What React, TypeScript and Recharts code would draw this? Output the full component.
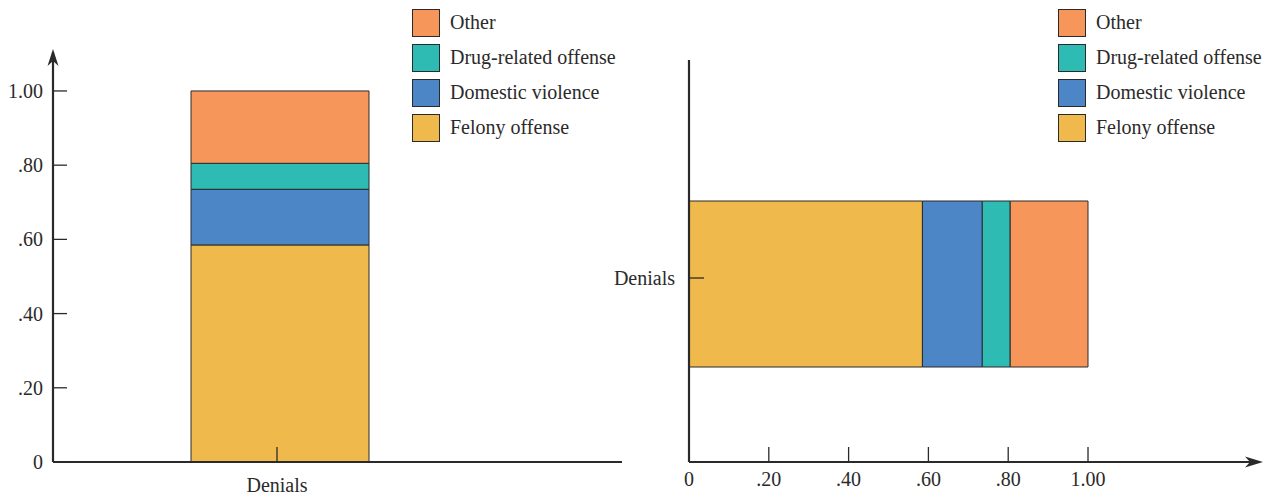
import { Bar, BarChart, Legend, XAxis, YAxis } from "recharts";

// Share of denials by reason (one category, stacked to 1.00)
const categories = ["Denials"];
const felony = [0.585];
const domestic = [0.15];
const drug = [0.07];
const other = [0.195];

const valueTicks = [0, 0.2, 0.4, 0.6, 0.8, 1];

const INK = "#2b2a2a";
const FONT = "'Liberation Serif', 'Times New Roman', serif";
const FS = 20;

const series = [
  { key: "felony", name: "Felony offense", color: "#f0b94b" },
  { key: "domestic", name: "Domestic violence", color: "#4d86c6" },
  { key: "drug", name: "Drug-related offense", color: "#2dbbb3" },
  { key: "other", name: "Other", color: "#f7965a" },
];

const data = categories.map((name, i) => ({
  name,
  felony: felony[i],
  domestic: domestic[i],
  drug: drug[i],
  other: other[i],
}));

const fmt = (v: number) => (v === 0 ? "0" : v === 1 ? "1.00" : v.toFixed(2).slice(1));

const order = (name: string) => series.findIndex((s) => s.name === name);

function LegendBox(props: any) {
  // top of the stack first
  const items = [...(props.payload || [])].sort((a: any, b: any) => order(b.value) - order(a.value));
  return (
    <div style={{ fontFamily: FONT, fontSize: FS, color: INK }}>
      {items.map((p: any) => (
        <div key={p.value} style={{ display: "flex", alignItems: "center", height: 35 }}>
          <div
            style={{
              width: 26,
              height: 26,
              background: p.color,
              border: `1px solid ${INK}`,
              marginRight: 10,
              flex: "none",
            }}
          />
          <span style={{ whiteSpace: "nowrap" }}>{p.value}</span>
        </div>
      ))}
    </div>
  );
}

const textProps = { fontFamily: FONT, fontSize: FS, fill: INK };

function LeftYTick(props: any) {
  const { x, y, payload } = props;
  return (
    <g>
      <line x1={x} x2={x + 14} y1={y} y2={y} stroke={INK} strokeWidth={1.3} />
      <text x={x - 10} y={y} textAnchor="end" dominantBaseline="central" {...textProps}>
        {fmt(payload.value)}
      </text>
    </g>
  );
}

function LeftXTick(props: any) {
  const { x, y, payload } = props;
  return (
    <g>
      <line x1={x - 3} x2={x - 3} y1={y} y2={y - 15} stroke={INK} strokeWidth={1.3} />
      <text x={x - 3} y={y + 23} textAnchor="middle" dominantBaseline="central" {...textProps}>
        {payload.value}
      </text>
    </g>
  );
}

function RightYTick(props: any) {
  const { x, y, payload } = props;
  return (
    <g>
      <line x1={x} x2={x + 15} y1={y - 6} y2={y - 6} stroke={INK} strokeWidth={1.3} />
      <text x={x - 14} y={y - 6} textAnchor="end" dominantBaseline="central" {...textProps}>
        {payload.value}
      </text>
    </g>
  );
}

function RightXTick(props: any) {
  const { x, y, payload } = props;
  return (
    <g>
      <line x1={x} x2={x} y1={y} y2={y - 15} stroke={INK} strokeWidth={1.3} />
      <text x={x} y={y + 17} textAnchor="middle" dominantBaseline="central" {...textProps}>
        {fmt(payload.value)}
      </text>
    </g>
  );
}

const axisLine = { stroke: INK, strokeWidth: 2.2 };

export default function App() {
  return (
    <div style={{ position: "relative", width: 1275, height: 495, background: "#fff" }}>
      <style>{"body{margin:0}"}</style>

      <div style={{ position: "absolute", left: 0, top: 0 }}>
        <BarChart width={640} height={495} data={data} margin={{ top: 52, right: 18, bottom: 0, left: 0 }}>
          {series.map((s) => (
            <Bar
              key={s.key}
              dataKey={s.key}
              name={s.name}
              stackId="a"
              fill={s.color}
              stroke={INK}
              strokeWidth={1}
              barSize={178}
              isAnimationActive={false}
            />
          ))}
          <XAxis
            dataKey="name"
            height={33}
            padding={{ left: 0, right: 115 }}
            axisLine={axisLine}
            tickLine={false}
            tickSize={0}
            tickMargin={0}
            tick={<LeftXTick />}
          />
          <YAxis
            type="number"
            width={53}
            domain={[0, 1.105]}
            ticks={valueTicks}
            axisLine={axisLine}
            tickLine={false}
            tickSize={0}
            tickMargin={0}
            tick={<LeftYTick />}
          />
          <Legend
            layout="vertical"
            align="center"
            verticalAlign="middle"
            content={<LegendBox />}
            wrapperStyle={{ position: "absolute", left: 412, top: 5, width: 228 }}
          />
        </BarChart>
      </div>

      <div style={{ position: "absolute", left: 560, top: 0 }}>
        <BarChart
          width={715}
          height={495}
          data={data}
          layout="vertical"
          margin={{ top: 60, right: 20, bottom: 0, left: 0 }}
        >
          {series.map((s) => (
            <Bar
              key={s.key}
              dataKey={s.key}
              name={s.name}
              stackId="a"
              fill={s.color}
              stroke={INK}
              strokeWidth={1}
              barSize={166}
              isAnimationActive={false}
            />
          ))}
          <XAxis
            type="number"
            height={33}
            domain={[0, 1.4185]}
            ticks={valueTicks}
            axisLine={axisLine}
            tickLine={false}
            tickSize={0}
            tickMargin={0}
            tick={<RightXTick />}
          />
          <YAxis
            type="category"
            dataKey="name"
            width={129}
            padding={{ top: 46, bottom: 0 }}
            axisLine={axisLine}
            tickLine={false}
            tickSize={0}
            tickMargin={0}
            tick={<RightYTick />}
          />
          <Legend
            layout="vertical"
            align="center"
            verticalAlign="middle"
            content={<LegendBox />}
            wrapperStyle={{ position: "absolute", left: 498, top: 5, width: 217 }}
          />
        </BarChart>
      </div>

      <svg
        width={1275}
        height={495}
        style={{ position: "absolute", left: 0, top: 0, pointerEvents: "none" }}
      >
        <polygon points="53,49 47.5,66 53,61 58.5,66" fill={INK} />
        <polygon points="1263,462 1245,456.5 1250,462 1245,467.5" fill={INK} />
      </svg>
    </div>
  );
}
